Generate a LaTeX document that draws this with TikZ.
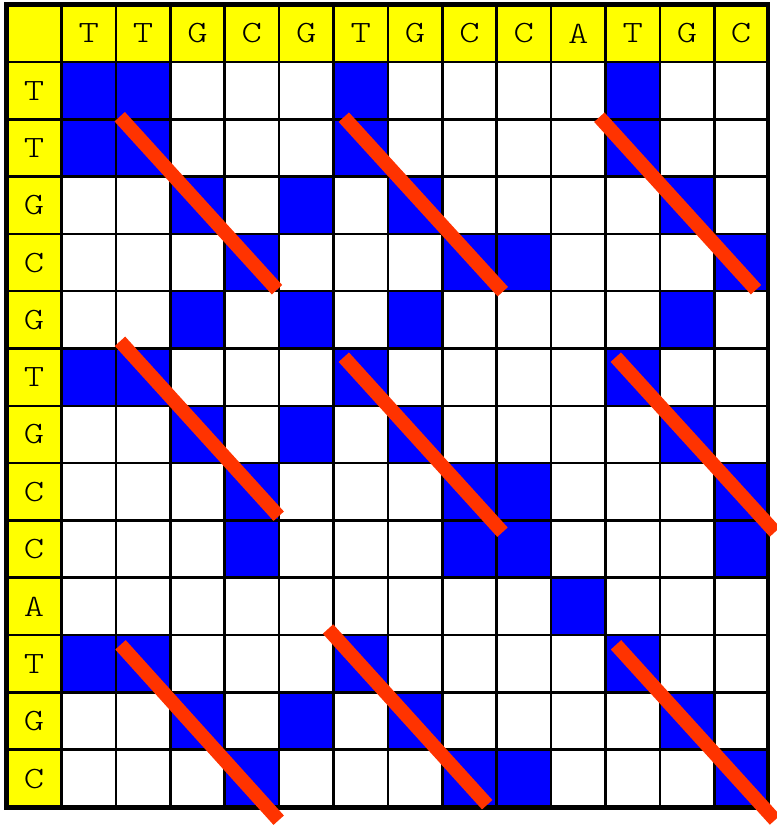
\documentclass[tikz,border=0pt]{standalone}
\usepackage{graphicx}
\usepackage{fontspec}
\newfontfamily\lblfont{Latin Modern Mono Light}
\definecolor{hdryellow}{RGB}{255,255,0}
\definecolor{matchblue}{RGB}{0,0,255}
\definecolor{diagred}{RGB}{255,51,0}
\newcommand{\stretchlbl}[1]{\scalebox{1.25}[1]{#1}}
\begin{document}
\begin{tikzpicture}[x=1pt,y=-1pt,
  lbl/.style={inner sep=0pt,font=\lblfont\fontsize{31}{31}\selectfont},
  gridline/.style={line width=2.5pt,black},
  outerline/.style={line width=4.5pt,black},
  diagline/.style={line width=14pt,diagred,line cap=butt}]
\useasboundingbox (0,0) rectangle (776,826);
% background
\fill[white] (6.5,4.7) rectangle (768,807.7);
\fill[hdryellow] (6.5,4.7) rectangle (768,62);
\fill[hdryellow] (6.5,4.7) rectangle (61.5,807.7);
% match cells
\foreach \g in {{1,2,6,11},{3,5,7,12},{4,8,9,13},{10}} {
  \foreach \i in \g {
    \foreach \j in \g {
      \pgfmathsetmacro\xa{61.5+54.4*(\j-1)}
      \pgfmathsetmacro\xb{ifthenelse(\j==13,768,61.5+54.4*\j)}
      \pgfmathsetmacro\ya{62+57.3*(\i-1)}
      \pgfmathsetmacro\yb{ifthenelse(\i==13,807.7,62+57.3*\i)}
      \fill[matchblue] (\xa,\ya) rectangle (\xb,\yb);
    }
  }
}
% grid lines
\foreach \k in {1,...,13} {
  \pgfmathsetmacro\xx{61.5+54.4*(\k-1)}
  \pgfmathsetmacro\yy{62+57.3*(\k-1)}
  \draw[gridline] (\xx,4.7) -- (\xx,807.7);
  \draw[gridline] (6.5,\yy) -- (768,\yy);
}
\draw[outerline] (6.5,4.7) rectangle (768,807.7);
% labels
\foreach \c [count=\j] in {T,T,G,C,G,T,G,C,C,A,T,G,C} {
  \pgfmathsetmacro\cx{(61.5+54.4*(\j-1)+ifthenelse(\j==13,768,61.5+54.4*\j))/2}
  \pgfmathsetmacro\cy{(62+57.3*(\j-1)+ifthenelse(\j==13,807.7,62+57.3*\j))/2}
  \node[lbl] (col\j) at (\cx,33.4) {\stretchlbl{\c}};
  \node[lbl] (row\j) at (34,\cy) {\stretchlbl{\c}};
}
% diagonal runs
\draw[diagline] (119.7,116.7) -- (277,289.7);
\draw[diagline] (343.8,117.2) -- (502.8,291.7);
\draw[diagline] (599.3,117.2) -- (756,289.7);
\draw[diagline] (120,341.3) -- (278.7,516.2);
\draw[diagline] (343.8,357.2) -- (502.5,532.2);
\draw[diagline] (615.8,357.2) -- (775,532);
\draw[diagline] (120.5,644.8) -- (278.7,820.2);
\draw[diagline] (328,629) -- (487.2,804.7);
\draw[diagline] (616,644.8) -- (775,820);
\end{tikzpicture}
\end{document}
